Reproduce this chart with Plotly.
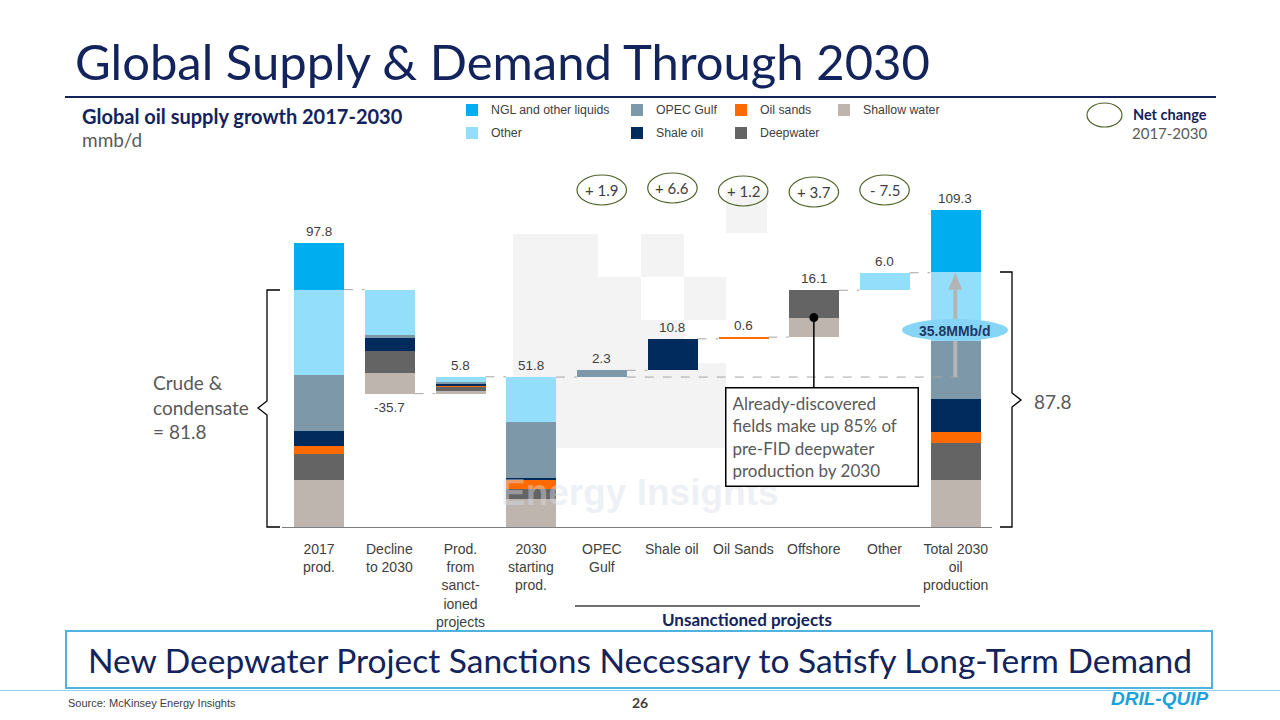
import plotly.graph_objects as go

# ---------------- data ----------------
categories = ["2017<br>prod.", "Decline<br>to 2030", "Prod.<br>from<br>sanct-<br>ioned<br>projects",
              "2030<br>starting<br>prod.", "OPEC<br>Gulf", "Shale oil", "Oil Sands", "Offshore",
              "Other", "Total 2030<br>oil<br>production"]
kinds = ["total", "decrease", "increase", "total", "increase", "increase",
         "increase", "increase", "increase", "total"]
shallow_water = [16.4, 7.0, 1.1, 10.1, 0, 0, 0, 6.7, 0, 16.6]
deepwater = [9.2, 7.7, 1.3, 3.4, 0, 0, 0, 9.4, 0, 12.6]
oil_sands = [2.7, 0, 0.6, 3.0, 0, 0, 0.6, 0, 0, 3.8]
shale_oil = [4.9, 4.3, 0.5, 0.8, 0, 10.8, 0, 0, 0, 11.4]
opec_gulf = [19.4, 1.2, 0.7, 19.1, 2.3, 0, 0, 0, 0, 19.7]
other = [29.2, 15.5, 1.6, 15.4, 0, 0, 0, 0, 6.0, 23.7]
ngl = [16.0, 0, 0, 0, 0, 0, 0, 0, 0, 21.5]
value_labels = ["97.8", "-35.7", "5.8", "51.8", "2.3", "10.8", "0.6", "16.1", "6.0", "109.3"]
net_change_labels = ["+ 1.9", "+ 6.6", "+ 1.2", "+ 3.7", "- 7.5"]   # columns 4..8
crude_2017_label = "Crude &<br>condensate<br>= 81.8"
crude_2030_label = "87.8"
deepwater_gap_label = "35.8MMb/d"

series_names = ["Shallow water", "Deepwater", "Oil sands", "Shale oil", "OPEC Gulf", "Other",
                "NGL and other liquids"]
series_values = [shallow_water, deepwater, oil_sands, shale_oil, opec_gulf, other, ngl]
series_colors = ["#BDB5AE", "#646464", "#FF6A00", "#002B5C", "#7D98A8", "#93DFFB", "#00AEEF"]

# ---------------- geometry helpers ----------------
W, H = 1280, 720
def X(px): return px / W
def Y(py): return 1 - py / H

NAVY = "#13235B"
GRAY_TXT = "#404040"
ARIAL = "Liberation Sans, Arial, sans-serif"
GILL = "Lato, sans-serif"

x_left_px, x_right_px = 283.6, 990.6
y_base_px, y_top_px = 528.0, 192.9
y_max = 115.0
bar_w = 0.707
ppu = (y_base_px - y_top_px) / y_max

# ---------------- waterfall bases ----------------
n = len(categories)
col_sum = [sum(s[i] for s in series_values) for i in range(n)]
starts, after = [], []
running = 0.0
for i, k in enumerate(kinds):
    if k == "total":
        st = 0.0
        running = col_sum[i] - ngl[i]
    elif k == "decrease":
        st = running - col_sum[i]
        running = st
    else:
        st = running
        running = running + col_sum[i]
    starts.append(st)
    after.append(running)

fig = go.Figure()
cum = list(starts)
for name, vals, col in zip(series_names, series_values, series_colors):
    fig.add_trace(go.Bar(
        x=list(range(n)), y=vals, base=cum[:], width=bar_w, name=name,
        marker=dict(color=col, line=dict(width=0)), showlegend=False, hoverinfo="skip"))
    cum = [c + v for c, v in zip(cum, vals)]
tops = cum

shapes = []
annots = []

def ann(text, x, y, size, color, family, xanchor="center", yanchor="middle", xref="paper", yref="paper",
        align="center", **kw):
    d = dict(text=text, x=x, y=y, xref=xref, yref=yref, showarrow=False, xanchor=xanchor, yanchor=yanchor,
             align=align, font=dict(family=family, size=size, color=color))
    d.update(kw)
    annots.append(d)

# watermark squares
wm = [(513, 234, 598, 448), (598, 277, 641, 448), (641, 234, 684, 277), (641, 320, 684, 448),
      (684, 277, 726, 320), (684, 363, 726, 448), (726, 190, 767, 233)]
for x0, y0, x1, y1 in wm:
    shapes.append(dict(type="rect", xref="paper", yref="paper", x0=X(x0), x1=X(x1), y0=Y(y1), y1=Y(y0),
                       fillcolor="#F3F3F3", line=dict(width=0), layer="below"))

# connectors
dash = dict(color="#A6A6A6", width=1, dash="dash")
for i in range(n - 1):
    shapes.append(dict(type="line", xref="x", yref="y", x0=i + bar_w / 2, x1=i + 1 - bar_w / 2,
                       y0=after[i], y1=after[i], line=dash))
shapes.append(dict(type="line", xref="x", yref="y", x0=4 + bar_w / 2, x1=9.05,
                   y0=after[3], y1=after[3], line=dash))

# baseline
shapes.append(dict(type="line", xref="paper", yref="y", x0=X(282), x1=X(992), y0=0, y1=0,
                   line=dict(color="#7F7F7F", width=2)))

# arrow in total bar
head_h = 17 / ppu
shapes.append(dict(type="line", xref="x", yref="y", x0=9, x1=9, y0=after[3], y1=after[8] - head_h,
                   line=dict(color="#B4B4B4", width=4)))
hw = 7 / 70.7
shapes.append(dict(type="path", xref="x", yref="y",
                   path=f"M {9 - hw},{after[8] - head_h} L {9 + hw},{after[8] - head_h} L 9,{after[8]} Z",
                   fillcolor="#B4B4B4", line=dict(width=0)))
shapes.append(dict(type="circle", xref="paper", yref="paper", x0=X(902), x1=X(1008), y0=Y(341), y1=Y(319),
                   fillcolor="#86D4F6", line=dict(width=0)))
ann(f"<b>{deepwater_gap_label}</b>", X(955), Y(330.5), 14, "#1F3864", ARIAL)

# value labels
for i, t in enumerate(value_labels):
    if kinds[i] == "decrease":
        ann(t, i, starts[i], 13.5, GRAY_TXT, ARIAL, xref="x", yref="y", yanchor="top", yshift=-4)
    else:
        ann(t, i, tops[i], 13.5, GRAY_TXT, ARIAL, xref="x", yref="y", yanchor="bottom", yshift=2)

# category labels
for i, c in enumerate(categories):
    ann(c, i, Y(539), 14, GRAY_TXT, ARIAL, xref="x", yanchor="top")

# net change ellipses
ell_y = [190, 188, 191, 192, 190]
for j, t in enumerate(net_change_labels):
    i = 4 + j
    cy = ell_y[j]
    shapes.append(dict(type="circle", xref="x", yref="paper", x0=i - 0.35, x1=i + 0.35,
                       y0=Y(cy + 15), y1=Y(cy - 15), line=dict(color="#4F6228", width=1.2)))
    ann(t, i, Y(cy), 15, GRAY_TXT, GILL, xref="x")

# braces
def P(x, y): return f"{X(x)},{Y(y)}"
shapes.append(dict(type="path", xref="paper", yref="paper",
                   path=f"M {P(280,290)} L {P(267,290)} L {P(267,401)} L {P(258,408)} L {P(267,415)} "
                        f"L {P(267,527)} L {P(280,527)}",
                   line=dict(color="#000000", width=1.3)))
shapes.append(dict(type="path", xref="paper", yref="paper",
                   path=f"M {P(1000,272)} L {P(1012,272)} L {P(1012,393)} L {P(1021,400)} L {P(1012,407)} "
                        f"L {P(1012,527)} L {P(1000,527)}",
                   line=dict(color="#000000", width=1.3)))
ann(crude_2017_label, X(151), Y(407), 19, "#595959", GILL, xanchor="left", align="left")
ann(crude_2030_label, X(1032), Y(401), 19, "#595959", GILL, xanchor="left")

# watermark text (drawn before the callout so the callout box covers it)
ann("<b>Energy Insights</b>", X(640), Y(492), 37, "rgba(215,221,233,0.45)", ARIAL)

# callout
dot_y = starts[7] + shallow_water[7]
shapes.append(dict(type="line", xref="x", yref="y", x0=7, x1=7, y0=dot_y,
                   y1=(y_base_px - 387) / ppu, line=dict(color="#000", width=1.5)))
shapes.append(dict(type="circle", xref="x", yref="y", xsizemode="pixel", ysizemode="pixel",
                   xanchor=7, yanchor=dot_y, x0=-4.5, x1=4.5, y0=-4.5, y1=4.5,
                   fillcolor="#000", line=dict(width=0)))
ann("Already-discovered<br>fields make up 85% of<br>pre-FID deepwater<br>production by 2030",
    X(725), Y(387), 17, "#595959", GILL, xanchor="left", yanchor="top", align="left",
    width=179, height=85, borderpad=6, borderwidth=1.5, bordercolor="#000000", bgcolor="white",
    valign="middle")

# unsanctioned
shapes.append(dict(type="line", xref="paper", yref="paper", x0=X(575), x1=X(920), y0=Y(606), y1=Y(606),
                   line=dict(color="#404040", width=1.3)))
ann("<b>Unsanctioned projects</b>", X(747), Y(619), 17, NAVY, GILL)

# title & header
ann("Global Supply & Demand Through 2030", X(73), Y(61), 49, NAVY, GILL, xanchor="left")
shapes.append(dict(type="line", xref="paper", yref="paper", x0=X(65), x1=X(1216), y0=Y(97), y1=Y(97),
                   line=dict(color=NAVY, width=2)))
ann("<b>Global oil supply growth 2017-2030</b>", X(80), Y(116), 20, NAVY, GILL, xanchor="left")
ann("mmb/d", X(80), Y(140), 19, "#595959", GILL, xanchor="left")

# legend
legend_items = [("NGL and other liquids", "#00AEEF", 466, 110), ("OPEC Gulf", "#7D98A8", 631, 110),
                ("Oil sands", "#FF6A00", 735, 110), ("Shallow water", "#BDB5AE", 838, 110),
                ("Other", "#93DFFB", 466, 133), ("Shale oil", "#002B5C", 631, 133),
                ("Deepwater", "#646464", 735, 133)]
for name, col, lx, ly in legend_items:
    shapes.append(dict(type="rect", xref="paper", yref="paper", x0=X(lx), x1=X(lx + 12),
                       y0=Y(ly + 6), y1=Y(ly - 6), fillcolor=col, line=dict(width=0)))
    ann(name, X(lx + 23), Y(ly), 12.3, GRAY_TXT, ARIAL, xanchor="left")

# net change key
shapes.append(dict(type="circle", xref="paper", yref="paper", x0=X(1087), x1=X(1122), y0=Y(127), y1=Y(103),
                   line=dict(color="#4F6228", width=1.2)))
ann("<b>Net change</b>", X(1209), Y(114), 14.5, NAVY, GILL, xanchor="right")
ann("2017-2030", X(1209), Y(133), 15, "#595959", GILL, xanchor="right")

# bottom banner
shapes.append(dict(type="rect", xref="paper", yref="paper", x0=X(66), x1=X(1212), y0=Y(688), y1=Y(631),
                   line=dict(color="#4FB3E0", width=2), fillcolor="white"))
ann("New Deepwater Project Sanctions Necessary to Satisfy Long-Term Demand", X(640), Y(660), 33.5, NAVY, GILL)
shapes.append(dict(type="line", xref="paper", yref="paper", x0=0, x1=1, y0=Y(690.5), y1=Y(690.5),
                   line=dict(color="#8FD3EE", width=1)))

# footer
ann("Source: McKinsey Energy Insights", X(66), Y(703), 11, GRAY_TXT, "Liberation Sans Narrow, " + ARIAL,
    xanchor="left")
ann("<b>26</b>", X(640), Y(702), 14, GRAY_TXT, GILL)
ann("<b><i>DRIL-QUIP</i></b>", X(1210), Y(698), 19, "#1BA1DB", ARIAL, xanchor="right")

fig.update_layout(
    width=W, height=H, margin=dict(l=0, r=0, t=0, b=0),
    paper_bgcolor="white", plot_bgcolor="rgba(0,0,0,0)",
    barmode="overlay", bargap=0,
    xaxis=dict(domain=[X(x_left_px), X(x_right_px)], range=[-0.5, n - 0.5], visible=False, fixedrange=True),
    yaxis=dict(domain=[Y(y_base_px), Y(y_top_px)], range=[0, y_max], visible=False, fixedrange=True),
    shapes=shapes, annotations=annots, showlegend=False,
)
fig.write_html("out.html", config={"displayModeBar": False},
               post_script="document.body.style.margin='0px';document.body.style.overflow='hidden';")
